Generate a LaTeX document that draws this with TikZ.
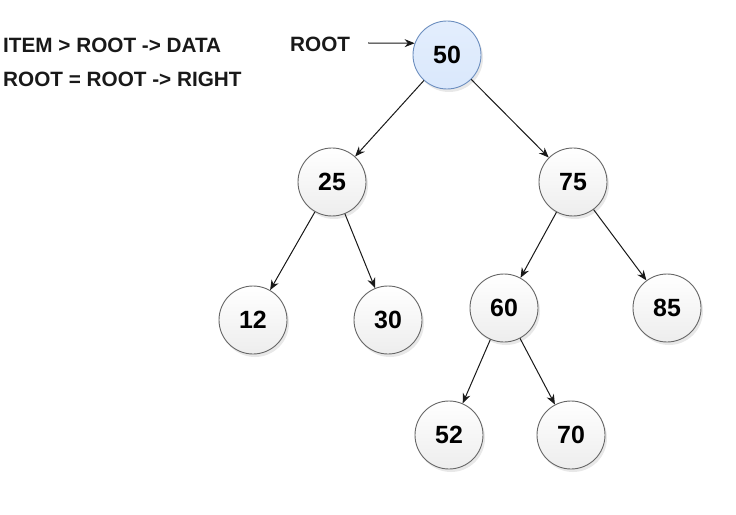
\documentclass[tikz,border=0pt]{standalone}
\usepackage{fontspec}
\setmainfont{Liberation Sans}
\usetikzlibrary{arrows.meta,shadows}
\definecolor{bluefill}{HTML}{DAE8FC}
\definecolor{bluestroke}{HTML}{6C8EBF}
\definecolor{graystroke}{HTML}{666666}
\tikzset{
  treenode/.style={circle, minimum size=68bp, inner sep=0pt, draw=graystroke, line width=0.9bp,
    top color=white, bottom color=black!7,
    drop shadow={opacity=0.18, shadow xshift=2bp, shadow yshift=-3bp},
    font=\fontsize{25}{28}\selectfont\bfseries},
  rootnode/.style={treenode, draw=bluestroke, top color=bluefill!75!white, bottom color=bluefill},
  lbl/.style={anchor=west, inner sep=0pt, font=\fontsize{20.8}{24}\selectfont\bfseries, text=black!90},
  edge/.style={-{Stealth[length=10bp,width=8bp]}, line width=1bp, draw=black!90}
}
\begin{document}
\begin{tikzpicture}[x=1bp,y=-1bp]
\useasboundingbox (0,0) rectangle (736,515);
\node[lbl] (l1) at (3,45) {ITEM > ROOT -> DATA};
\node[lbl] (l2) at (3,79) {ROOT = ROOT -> RIGHT};
\node[lbl] (lroot) at (290,44) {ROOT};
\coordinate (rs) at (368,43);

\node[rootnode] (n50) at (447,55) {50};
\node[treenode] (n25) at (332,182) {25};
\node[treenode] (n75) at (573,182) {75};
\node[treenode] (n12) at (253,320) {12};
\node[treenode] (n30) at (388,320) {30};
\node[treenode] (n60) at (504,308) {60};
\node[treenode] (n85) at (667,308) {85};
\node[treenode] (n52) at (449,435) {52};
\node[treenode] (n70) at (571,435) {70};

\draw[edge] (rs) -- (n50.160);
\draw[edge] (n50) -- (n25);
\draw[edge] (n50) -- (n75);
\draw[edge] (n25) -- (n12);
\draw[edge] (n25) -- (n30);
\draw[edge] (n75) -- (n60);
\draw[edge] (n75) -- (n85);
\draw[edge] (n60) -- (n52);
\draw[edge] (n60) -- (n70);
\end{tikzpicture}
\end{document}
